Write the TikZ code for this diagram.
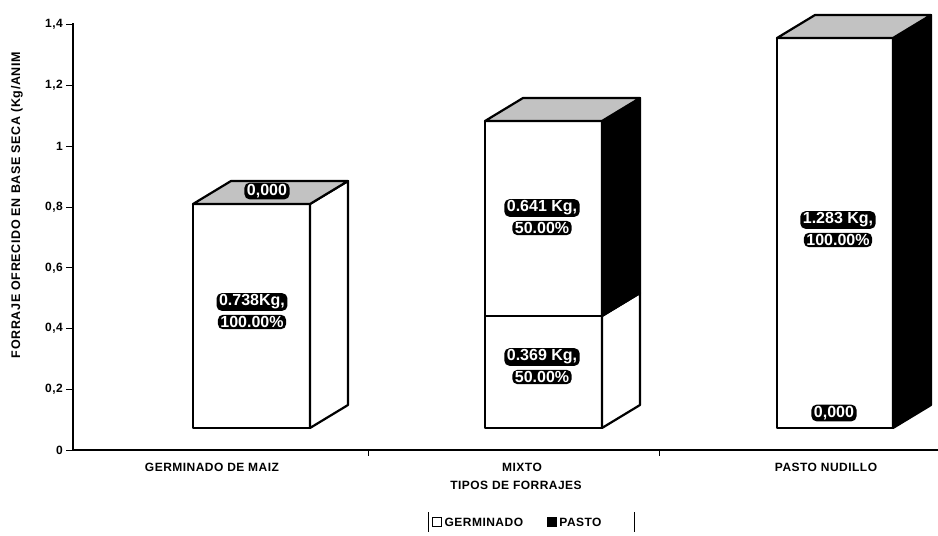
\documentclass[tikz,border=0pt]{standalone}
\usepackage{fontspec}
\setmainfont{Liberation Sans}
\begin{document}
\begin{tikzpicture}[x=1pt,y=-1pt,
  lbl/.style={font=\bfseries\fontsize{12}{14}\selectfont\addfontfeatures{LetterSpace=4},inner sep=0pt},
  val/.style={font=\bfseries\fontsize{16}{19}\selectfont,text=white,fill=black,
    rounded corners=5pt,inner xsep=2.5pt,inner ysep=1.5pt},
  face/.style={draw=black,line width=2.2pt,line join=round},
  wface/.style={face,fill=white},
  bface/.style={face,fill=black},
  tface/.style={face,fill=black!24}]
\useasboundingbox (0,0) rectangle (938,536);
% axes
\draw[line width=1.1pt] (73,23) -- (73,450) -- (938,450);
\foreach \i/\t in {0/0,1/{0,2},2/{0,4},3/{0,6},4/{0,8},5/1,6/{1,2},7/{1,4}}{
  \draw[line width=1pt] (66,{450-60.75*\i}) -- (73,{450-60.75*\i});
  \node[lbl,anchor=east] (tick\i) at (63,{450-60.75*\i}) {\t};
}
\draw[line width=1pt] (368,450) -- (368,456);
\draw[line width=1pt] (659,450) -- (659,456);
% bar 1
\draw[wface] (193,204) rectangle (310,428);
\draw[wface] (310,428) -- (348,405) -- (348,181) -- (310,204) -- cycle;
\draw[tface] (193,204) -- (231,181) -- (348,181) -- (310,204) -- cycle;
% bar 2
\draw[wface] (485,316) rectangle (602,428);
\draw[wface] (485,121) rectangle (602,316);
\draw[wface] (602,428) -- (640,405) -- (640,293) -- (602,316) -- cycle;
\draw[bface] (602,316) -- (640,293) -- (640,98) -- (602,121) -- cycle;
\draw[tface] (485,121) -- (523,98) -- (640,98) -- (602,121) -- cycle;
% bar 3
\draw[wface] (777,38) rectangle (893,428);
\draw[bface] (893,428) -- (931,405) -- (931,15) -- (893,38) -- cycle;
\draw[tface] (777,38) -- (815,15) -- (931,15) -- (893,38) -- cycle;
% value labels
\node[val] (v1t) at (267,191) {0,000};
\node[val] (v1a) at (252,302) {0.738Kg,};
\node[val] (v1b) at (252,322) {100.00\%};
\node[val] (v2a) at (542,208) {0.641 Kg,};
\node[val] (v2b) at (542,228) {50.00\%};
\node[val] (v2c) at (542,357) {0.369 Kg,};
\node[val] (v2d) at (542,377) {50.00\%};
\node[val] (v3a) at (838,220) {1.283 Kg,};
\node[val] (v3b) at (838,240) {100.00\%};
\node[val] (v3c) at (834,413) {0,000};
% category labels
\node[lbl] (c1) at (212,467) {GERMINADO DE MAIZ};
\node[lbl] (c2) at (522,467) {MIXTO};
\node[lbl] (c3) at (826,467) {PASTO NUDILLO};
\node[lbl] (xt) at (516,485) {TIPOS DE FORRAJES};
\node[lbl,rotate=90,font=\bfseries\fontsize{12.5}{14}\selectfont\addfontfeatures{LetterSpace=5}] (yt) at (17,205) {FORRAJE OFRECIDO EN BASE SECA (Kg/ANIM};
% legend
\draw[line width=1pt] (428,512) -- (428,532);
\draw[line width=1pt] (634,512) -- (634,532);
\node[draw,line width=1.8pt,minimum size=9pt,inner sep=0pt,fill=white] (lg1) at (437,522) {};
\node[lbl,anchor=west] (lt1) at ([xshift=2pt]lg1.east) {GERMINADO};
\node[fill=black,minimum size=10pt,inner sep=0pt] (lg2) at (552,522) {};
\node[lbl,anchor=west] (lt2) at ([xshift=2pt]lg2.east) {PASTO};
\end{tikzpicture}
\end{document}
